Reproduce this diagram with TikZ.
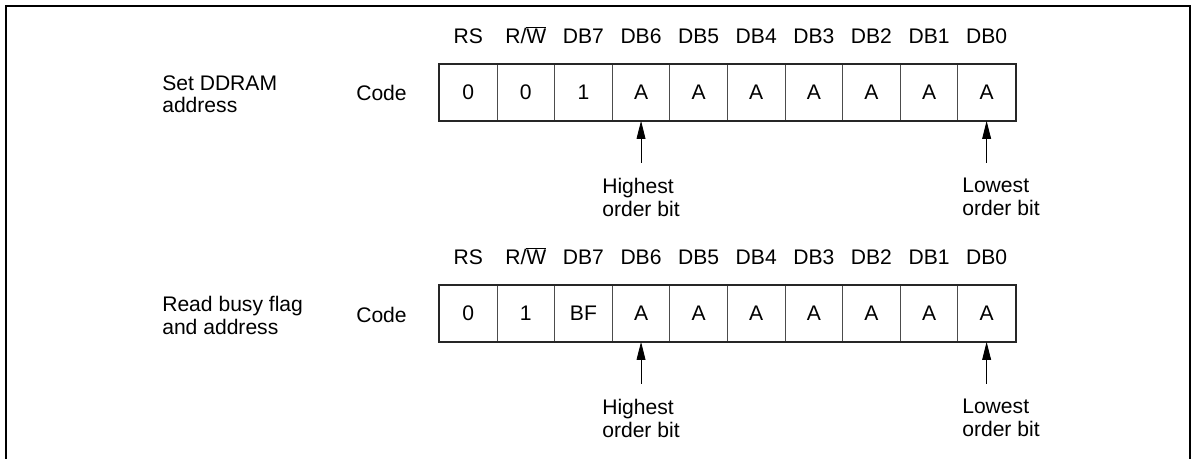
\documentclass[tikz,border=0pt]{standalone}
\usepackage{fontspec}
\setmainfont{Liberation Sans}
\usetikzlibrary{arrows.meta}

\begin{document}
\begin{tikzpicture}[x=0.025cm,y=-0.025cm,>={Triangle[length=0.45cm,width=0.22cm]},
  font=\fontsize{15pt}{16.3pt}\selectfont,
  bitcell/.style={draw=black!70,line width=0.6pt,minimum width=1.44cm,minimum height=1.4cm,inner sep=0pt,anchor=north west},
  plain/.style={inner sep=0pt},
  note/.style={anchor=north west,align=left,inner sep=0pt}]

\useasboundingbox (0,0) rectangle (1198,459);

% ============================================================
% FRAME (open at the bottom)
% ============================================================

\draw[line width=1.4pt] (6,459) -- (6,6) -- (1190,6) -- (1190,459);

% ============================================================
% TWO INSTRUCTION ROWS
% ============================================================

\foreach \row/\top/\name/\rw/\seven in {1/64/{Set DDRAM\\address}/0/1,
                                        2/285/{Read busy flag\\and address}/1/BF}{

  % instruction name and "Code"
  \node[note] (op\row) at (162,\top+11) {\name};
  \node[plain,anchor=base west] (code\row) at (356,\top+37) {Code};

  % bit cells
  \foreach \v [count=\i from 0] in {0,\rw,\seven,A,A,A,A,A,A,A}{
    \node[bitcell] (c\row-\i) at (439+57.6*\i,\top) {\v};
  }
  \draw[line width=1.2pt,black!85] (c\row-0.north west) rectangle (c\row-9.south east);

  % column heads
  \foreach \h [count=\i from 0] in {RS,R/$\overline{\hbox{W}}$,DB7,DB6,DB5,DB4,DB3,DB2,DB1,DB0}{
    \path (c\row-\i.north) ++(0,-20) node[plain,anchor=base] (h\row-\i) {\h};
  }

  % highest / lowest order bit
  \path (c\row-3.south) ++(0,42) coordinate (hb\row);
  \path (c\row-9.south) ++(0,42) coordinate (lb\row);
  \draw[->,line width=0.6pt] (hb\row) -- (c\row-3.south);
  \draw[->,line width=0.6pt] (lb\row) -- (c\row-9.south);
  \node[note] (hi\row) at (602,\top+114) {Highest\\order bit};
  \node[note] (lo\row) at (962,\top+114) {Lowest\\order bit};
}

\end{tikzpicture}
\end{document}
